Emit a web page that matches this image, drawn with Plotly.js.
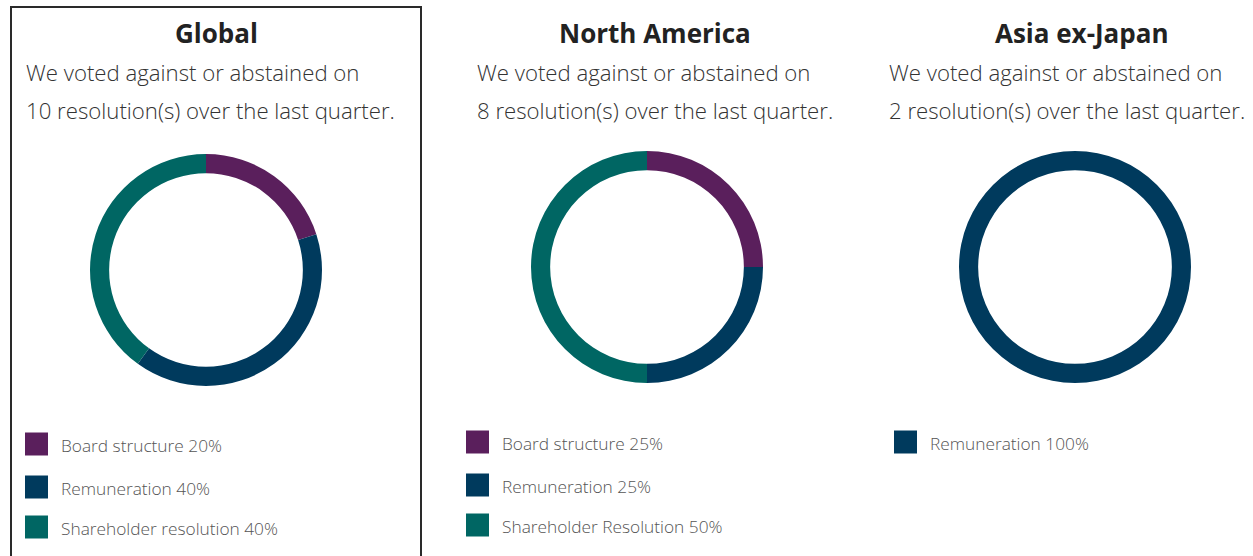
<!DOCTYPE html>
<html><head><meta charset="utf-8">
<script src="https://cdn.plot.ly/plotly-3.0.1.min.js"></script>
<style>html,body{margin:0;padding:0;background:#fff;}#chart{width:1253px;height:556px;}</style>
</head><body><div id="chart"></div>
<script>
const regions = ["Global", "North America", "Asia ex-Japan"];
const resolutionCounts = [10, 8, 2];
const globalLabels = ["Board structure", "Remuneration", "Shareholder resolution"];
const globalValues = [20, 40, 40];
const naLabels = ["Board structure", "Remuneration", "Shareholder Resolution"];
const naValues = [25, 25, 50];
const asiaLabels = ["Remuneration"];
const asiaValues = [100];
const colorMap = {"Board structure": "#5A1F5C", "Remuneration": "#003A5D", "Shareholder resolution": "#006663", "Shareholder Resolution": "#006663"};

const W = 1253, H = 556;
const px = x => x / W, py = y => 1 - y / H;
const panels = [
  {labels: globalLabels, values: globalValues, cx: 206, cy: 270, titleX: 216, subX: 24, legX: 25, legY: 444},
  {labels: naLabels, values: naValues, cx: 647, cy: 267, titleX: 655, subX: 475, legX: 466, legY: 442},
  {labels: asiaLabels, values: asiaValues, cx: 1075, cy: 267, titleX: 1082, subX: 887, legX: 894, legY: 442}
];
const R = 116;
const FONT = "'Open Sans', Lato, sans-serif";
const traces = [], annotations = [], shapes = [];
const rowGaps = [0, 43, 83];

panels.forEach((p, i) => {
  traces.push({
    type: 'pie', labels: p.labels, values: p.values, sort: false, direction: 'clockwise', rotation: 0,
    hole: 0.835, textinfo: 'none', hoverinfo: 'label+percent', showlegend: false,
    marker: {colors: p.labels.map(l => colorMap[l]), line: {width: 0}},
    domain: {x: [px(p.cx - R), px(p.cx + R)], y: [py(p.cy + R), py(p.cy - R)]}
  });
  annotations.push({text: regions[i], x: px(p.titleX), y: py(33), xref: 'paper', yref: 'paper',
    xanchor: 'center', yanchor: 'middle', showarrow: false, font: {family: FONT, size: 26, color: '#222', weight: 700}});
  annotations.push({text: 'We voted against or abstained on', x: px(p.subX), y: py(73), xref: 'paper', yref: 'paper',
    xanchor: 'left', yanchor: 'middle', showarrow: false, font: {family: FONT, size: 22.2, color: '#333', weight: 300}});
  annotations.push({text: resolutionCounts[i] + ' resolution(s) over the last quarter.', x: px(p.subX), y: py(110), xref: 'paper', yref: 'paper',
    xanchor: 'left', yanchor: 'middle', showarrow: false, font: {family: FONT, size: 22.2, color: '#333', weight: 300}});
  p.labels.forEach((l, j) => {
    const y = p.legY + rowGaps[j];
    shapes.push({type: 'rect', xref: 'paper', yref: 'paper', x0: px(p.legX), x1: px(p.legX + 23), y0: py(y + 11.5), y1: py(y - 11.5),
      fillcolor: colorMap[l], line: {width: 0}});
    annotations.push({text: l + ' ' + p.values[j] + '%', x: px(p.legX + 34), y: py(y + 1), xref: 'paper', yref: 'paper',
      xanchor: 'left', yanchor: 'middle', showarrow: false, font: {family: FONT, size: 17.3, color: '#555', weight: 300}});
  });
});

shapes.push({type: 'rect', xref: 'paper', yref: 'paper', x0: px(11), x1: px(421), y0: py(570), y1: py(7),
  line: {color: '#2a2a2a', width: 2}, fillcolor: 'rgba(0,0,0,0)'});

Plotly.newPlot('chart', traces, {
  width: W, height: H, margin: {l: 0, r: 0, t: 0, b: 0}, paper_bgcolor: '#fff',
  annotations: annotations, shapes: shapes, showlegend: false
}, {displayModeBar: false, staticPlot: true});
</script></body></html>
